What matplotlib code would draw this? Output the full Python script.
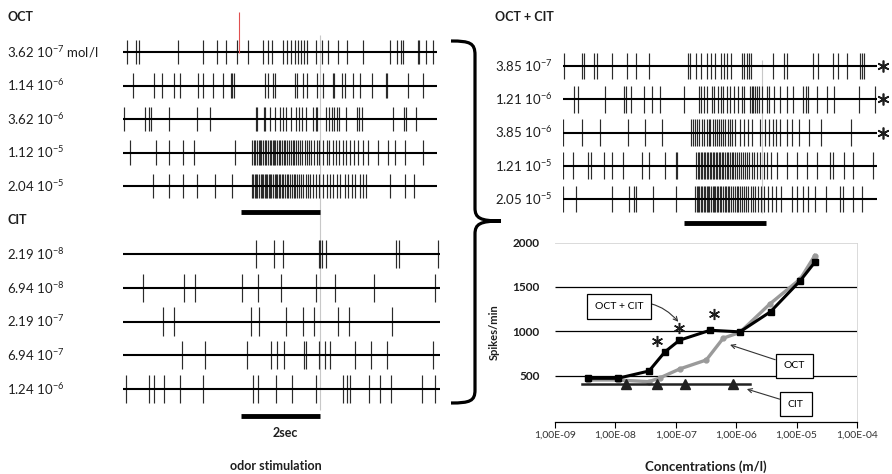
import matplotlib
matplotlib.use("Agg")
import matplotlib.pyplot as plt
from matplotlib.path import Path
from matplotlib.patches import PathPatch

plt.rcParams["font.family"] = ["Lato", "DejaVu Sans"]
plt.rcParams["mathtext.fontset"] = "custom"
plt.rcParams["mathtext.rm"] = "Lato"
plt.rcParams["mathtext.default"] = "regular"

W, H = 892, 474
INK = "#1e1e1e"

# ---------------- spike trains (times in s) ----------------
OCT_MANT = ["3.62", "1.14", "3.62", "1.12", "2.04"]
OCT_EXP = [-7, -6, -6, -5, -5]
OCT_SPIKES = [
    [0.11, 0.32, 0.40, 1.38, 2.01, 2.36, 2.58, 2.86, 3.13, 3.51, 3.62, 3.72, 4.01, 4.09,
     4.19, 4.30, 4.38, 4.44, 4.52, 4.59, 4.83, 4.98, 5.12, 5.38, 5.59, 6.01, 6.68, 6.86,
     6.94, 6.99, 7.38, 7.41, 7.58, 7.76],
    [0.26, 0.78, 0.98, 1.28, 1.43, 1.88, 2.01, 2.26, 2.51, 2.69, 2.73, 2.78, 3.55, 3.63,
     3.76, 3.80, 4.30, 4.34, 4.49, 4.61, 4.86, 4.99, 5.26, 5.28, 5.47, 5.55, 5.74, 5.93,
     6.22, 6.58, 6.61, 7.13, 7.51],
    [0.03, 0.55, 0.66, 0.70, 1.16, 1.86, 2.18, 3.33, 3.36, 3.53, 3.56, 3.68, 3.80, 3.93,
     4.00, 4.08, 4.19, 4.33, 4.41, 4.47, 4.58, 4.74, 4.83, 4.86, 5.08, 5.16, 5.22, 5.28,
     5.34, 5.41, 5.58, 5.84, 5.91, 5.97, 6.76, 7.03, 7.08, 7.33],
    [0.18, 0.83, 1.15, 1.50, 1.78, 2.80,
     3.23, 3.27, 3.30, 3.35, 3.39, 3.43, 3.46, 3.51, 3.55, 3.58, 3.62, 3.67, 3.70, 3.74,
     3.78, 3.81, 3.86, 3.90, 3.93, 3.97, 4.02, 4.06, 4.10, 4.14, 4.19, 4.24, 4.28, 4.33,
     4.38, 4.43, 4.48, 4.54, 4.59, 4.65, 4.71, 4.77, 4.84, 4.91,
     5.00, 5.10, 5.15, 5.25, 5.33, 5.40, 5.50, 5.58, 5.68, 5.78, 5.88, 6.00,
     6.13, 6.38, 6.63, 6.80, 7.05, 7.50],
    [0.75, 1.15, 1.50, 1.85, 2.30, 2.73,
     3.22, 3.26, 3.29, 3.33, 3.36, 3.40, 3.44, 3.47, 3.50, 3.54, 3.57, 3.61, 3.64, 3.68,
     3.71, 3.75, 3.79, 3.82, 3.86, 3.90, 3.93, 3.97, 4.01, 4.05, 4.09, 4.13, 4.18, 4.22,
     4.27, 4.31, 4.36, 4.41, 4.46, 4.51, 4.57, 4.62, 4.68, 4.74,
     4.83, 4.90, 5.00, 5.10, 5.18, 5.25, 5.35, 5.43, 5.55, 5.63, 5.73, 5.80, 5.93, 6.00,
     6.08, 6.68, 7.05, 7.28],
]

CIT_MANT = ["2.19", "6.94", "2.19", "6.94", "1.24"]
CIT_EXP = [-8, -8, -7, -7, -6]
CIT_SPIKES = [
    [3.33, 3.78, 4.00, 4.90, 4.93, 4.98, 5.08, 6.83, 6.90, 7.87],
    [0.49, 1.53, 1.80, 2.97, 3.38, 3.94, 4.83, 5.30, 6.28, 7.80],
    [1.01, 1.28, 3.20, 3.41, 4.07, 4.51, 4.78, 5.38, 5.65, 6.73],
    [1.48, 2.05, 3.09, 3.70, 3.84, 4.03, 4.53, 4.58, 4.91, 5.05, 5.18, 5.80, 6.19, 6.59,
     7.74],
    [0.08, 0.66, 0.78, 1.03, 1.43, 1.99, 3.24, 3.37, 3.83, 4.23, 4.83, 5.51, 5.59, 5.68,
     6.15, 6.43, 6.70, 7.47, 7.80],
]

MIX_MANT = ["3.85", "1.21", "3.85", "1.21", "2.05"]
MIX_EXP = [-7, -6, -6, -5, -5]
MIX_SIGNIF = [True, True, True, False, False]
MIX_SPIKES = [
    [0.03, 0.48, 0.53, 0.78, 0.85, 1.23, 1.60, 1.83, 2.15, 3.13, 3.18, 3.33, 3.45, 3.60,
     3.70, 3.80, 3.95, 4.03, 4.10, 4.20, 4.48, 4.53, 4.60, 4.65, 4.70, 5.25, 5.53, 5.60,
     6.25, 6.38, 6.75, 6.88, 7.10, 7.43, 7.48, 7.53],
    [0.28, 0.38, 1.05, 1.53, 1.58, 1.70, 2.03, 2.23, 2.43, 3.03, 3.40, 3.45, 3.53, 3.60,
     3.73, 3.78, 3.88, 3.95, 4.00, 4.10, 4.18, 4.28, 4.38, 4.48, 4.53, 4.68, 4.73, 4.75,
     4.80, 4.85, 4.90, 4.98, 5.10, 5.15, 5.28, 5.43, 5.60, 5.75, 6.00, 6.08, 6.13, 6.35,
     6.60, 6.78, 7.40, 7.80],
    [0.01, 0.47, 0.93, 1.62, 2.05, 2.47,
     3.19, 3.24, 3.30, 3.36, 3.41, 3.47, 3.53, 3.59, 3.64, 3.68, 3.74, 3.80, 3.85, 3.90,
     3.95, 4.00, 4.05, 4.12, 4.18, 4.23, 4.30,
     4.43, 4.53, 4.63, 4.72, 4.93, 5.05, 5.15, 5.25, 5.33, 5.43, 5.60, 5.73, 5.90, 6.15,
     6.45, 7.20],
    [0.01, 0.26, 0.63, 0.69, 1.03, 1.23, 1.51, 1.97, 2.16, 2.55, 2.83, 2.86,
     3.33, 3.37, 3.41, 3.44, 3.48, 3.52, 3.56, 3.59, 3.63, 3.67, 3.70, 3.74, 3.78, 3.82,
     3.86, 3.89, 3.93, 3.97, 4.01, 4.05, 4.09, 4.13, 4.17, 4.22, 4.26, 4.31, 4.35, 4.40,
     4.45, 4.50, 4.55, 4.61, 4.66, 4.72, 4.78, 4.85,
     4.93, 5.02, 5.10, 5.20, 5.34,
     5.59, 5.84, 6.11, 6.34, 6.68, 6.76, 7.03, 7.26, 7.74],
    [0.01, 0.33, 1.22, 1.66, 1.78, 1.83, 2.24, 2.83,
     3.30, 3.34, 3.37, 3.41, 3.45, 3.48, 3.52, 3.55, 3.59, 3.63, 3.66, 3.70, 3.74, 3.77,
     3.81, 3.85, 3.88, 3.92, 3.96, 4.00, 4.04, 4.08, 4.12, 4.16, 4.20, 4.25, 4.29, 4.34,
     4.38, 4.43, 4.48, 4.53, 4.58, 4.63, 4.69, 4.75, 4.81, 4.88, 4.95, 5.03, 5.12, 5.22,
     5.33, 5.45,
     5.72, 5.86, 6.01, 6.13, 6.30, 6.58, 6.93, 6.99, 7.24, 7.47],
]

# stimulus windows (s)
LEFT_STIM = (2.90, 4.93)
RIGHT_STIM = (3.03, 5.08)

# ---------------- dose-response ----------------
MIX_CONC = [3.5e-9, 1.1e-8, 3.6e-8, 6.6e-8, 1.15e-7, 3.7e-7, 1.15e-6, 3.7e-6, 1.15e-5, 2.0e-5]
MIX_RATE = [474, 474, 556, 771, 902, 1014, 996, 1222, 1571, 1778]
OCT_CONC = [3.5e-9, 1.1e-8, 3.6e-8, 5.5e-8, 1.17e-7, 3.2e-7, 6.1e-7, 1.15e-6, 3.6e-6,
            1.15e-5, 2.0e-5]
OCT_RATE = [455, 455, 436, 480, 580, 680, 925, 990, 1309, 1590, 1853]
CIT_CONC = [2.8e-9, 1.5e-8, 4.9e-8, 1.4e-7, 8.9e-7, 1.7e-6]
CIT_RATE = [405, 405, 405, 405, 405, 405]
STAR_CONC = [4.9e-8, 1.15e-7, 4.3e-7]
STAR_RATE = [898, 1038, 1199]
X_TICKS = [1e-9, 1e-8, 1e-7, 1e-6, 1e-5, 1e-4]
X_TICK_LABELS = ["1,00E-09", "1,00E-08", "1,00E-07", "1,00E-06", "1,00E-05", "1,00E-04"]
Y_TICKS = [500, 1000, 1500, 2000]

fig = plt.figure(figsize=(W / 100, H / 100), dpi=100)


def px_axes(x0, y0, x1, y1):
    return fig.add_axes([x0 / W, 1 - y1 / H, (x1 - x0) / W, (y1 - y0) / H])


def trace_panel(x0, y0, x1, y1, first_y, step):
    ax = px_axes(x0, y0, x1, y1)
    ax.set_xlim(0, 8)
    ax.set_ylim((y1 - first_y) / step, (y0 - first_y) / step)
    ax.axis("off")
    return ax


def conc_label(m, e):
    return f"{m} 10$^{{{e}}}$"


def draw_traces(ax, spikes, mant, exps, lab_x, t_end, half, t_start=0.0):
    for i, times in enumerate(spikes):
        ax.hlines(i, t_start, t_end, color="black", lw=1.5, zorder=3)
        ax.vlines(times, i - half, i + half, color="#2b2b2b", lw=0.85, zorder=2)
        ax.text(lab_x, i, conc_label(mant[i], exps[i]), fontsize=9.5, color=INK,
                ha="left", va="center")


# decoration layer (brace + headers)
deco = px_axes(0, 0, W, H)
deco.set_xlim(0, W)
deco.set_ylim(H, 0)
deco.axis("off")
brace = Path(
    [(451, 41), (470, 41), (475, 43), (475, 55), (475, 208), (475, 218), (480, 221),
     (501, 221), (480, 221), (475, 224), (475, 234), (475, 390), (475, 401), (470, 403),
     (451, 403)],
    [Path.MOVETO, Path.CURVE4, Path.CURVE4, Path.CURVE4, Path.LINETO, Path.CURVE4,
     Path.CURVE4, Path.CURVE4, Path.CURVE4, Path.CURVE4, Path.CURVE4, Path.LINETO,
     Path.CURVE4, Path.CURVE4, Path.CURVE4])
deco.add_patch(PathPatch(brace, fill=False, lw=2.3, color="black", capstyle="butt"))
deco.text(8, 17, "OCT", fontsize=9, fontweight="bold", color=INK, va="center")
deco.text(8, 220, "CIT", fontsize=9, fontweight="bold", color=INK, va="center")
deco.text(495, 17, "OCT + CIT", fontsize=9, fontweight="bold", color=INK, va="center")

# OCT panel
ax_oct = trace_panel(123, 5, 443, 228, 52, 33.5)
draw_traces(ax_oct, OCT_SPIKES, OCT_MANT, OCT_EXP, -2.9, 7.85, 0.37)
ax_oct.texts[0].set_text(conc_label(OCT_MANT[0], OCT_EXP[0]) + " mol/l")
ax_oct.vlines(LEFT_STIM[0], -1.19, 0.03, color="#e05050", lw=0.8, zorder=4)
ax_oct.vlines(LEFT_STIM[1], -0.5, 5.3, color="#c8c8c8", lw=0.8, zorder=1)
ax_oct.hlines(4.78, LEFT_STIM[0] + 0.05, LEFT_STIM[1], color="black", lw=3.5)

# CIT panel
ax_cit = trace_panel(123, 228, 443, 474, 254, 33.75)
draw_traces(ax_cit, CIT_SPIKES, CIT_MANT, CIT_EXP, -2.9, 7.93, 0.42, t_start=-0.1)
ax_cit.vlines(LEFT_STIM[1], -0.8, 4.62, color="#c8c8c8", lw=0.8, zorder=1)
ax_cit.hlines(4.8, LEFT_STIM[0] + 0.05, LEFT_STIM[1], color="black", lw=3.5)
ax_cit.text(4.05, 5.3, "2sec", fontsize=9, fontweight="bold", color=INK,
            ha="center", va="center")
ax_cit.text(3.83, 6.28, "odor stimulation", fontsize=9, fontweight="bold", color=INK,
            ha="center", va="center")

# OCT + CIT panel
ax_mix = trace_panel(563, 40, 883, 235, 66, 33.25)
draw_traces(ax_mix, MIX_SPIKES, MIX_MANT, MIX_EXP, -1.7, 7.85, 0.4)
ax_mix.vlines(RIGHT_STIM[1] - 0.1, -0.18, 4.42, color="#c8c8c8", lw=0.8, zorder=1)
ax_mix.hlines(4.72, RIGHT_STIM[0], RIGHT_STIM[1], color="black", lw=3.5)
sig_rows = [i for i, s in enumerate(MIX_SIGNIF) if s]
ax_mix.plot([8.0] * len(sig_rows), sig_rows, ls="none", marker=(6, 2, 0), ms=8.5,
            mew=1.2, color=INK, clip_on=False)

# dose-response chart
ax = px_axes(555, 242.5, 857, 422)
ax.set_xscale("log")
ax.set_xlim(X_TICKS[0], X_TICKS[-1])
ax.set_ylim(-17, 2000)
ax.hlines(Y_TICKS[:-1], X_TICKS[0], X_TICKS[-1], color="black", lw=0.9, zorder=1)
ax.plot(OCT_CONC, OCT_RATE, color="#9a9a9a", lw=2.4, marker="o", ms=3.5, zorder=2)
ax.plot(CIT_CONC, CIT_RATE, color="#222222", lw=1.8, marker="^", ms=7.5,
        markevery=[1, 2, 3, 4], zorder=3)
ax.plot(MIX_CONC, MIX_RATE, color="black", lw=2.2, marker="s", ms=3.8, zorder=4)
ax.plot(STAR_CONC, STAR_RATE, ls="none", marker=(6, 2, 0), ms=8, mew=1.1, color=INK)

ax.set_xticks(X_TICKS)
ax.set_xticklabels(X_TICK_LABELS)
ax.minorticks_off()
ax.set_yticks(Y_TICKS)
ax.tick_params(axis="x", direction="out", length=4, width=0.8, labelsize=7.5,
               labelcolor="#333333", pad=2)
ax.tick_params(axis="y", length=0, labelsize=8.5, pad=11, labelcolor=INK)
for lab in ax.get_yticklabels():
    lab.set_fontweight("bold")
ax.spines["left"].set_visible(False)
ax.spines["top"].set_color("#d4d4d4")
ax.spines["right"].set_color("#d4d4d4")
ax.spines["top"].set_linewidth(0.6)
ax.spines["right"].set_linewidth(0.6)
ax.spines["bottom"].set_linewidth(0.9)
ax.set_xlabel("Concentrations (m/l)", fontsize=9.5, fontweight="bold", color=INK,
              labelpad=15)
ax.set_ylabel("Spikes/min", fontsize=8, fontweight="bold", color=INK, labelpad=9)

box = dict(boxstyle="square,pad=0.75", fc="white", ec="black", lw=0.9)
arrow = dict(arrowstyle="->", color="#333333", lw=0.8, shrinkA=0, shrinkB=0)
ax.annotate("OCT + CIT", xy=(1.1e-7, 1109), xytext=(1.15e-8, 1278), fontsize=7.5,
            ha="center", va="center", bbox=box,
            arrowprops=dict(arrow, connectionstyle="arc3,rad=-0.35"))
ax.annotate("OCT", xy=(7.9e-7, 850), xytext=(9.1e-6, 613), fontsize=7.5,
            ha="center", va="center", bbox=box, arrowprops=arrow)
ax.annotate("CIT", xy=(1.5e-6, 353), xytext=(9.7e-6, 184), fontsize=7.5,
            ha="center", va="center", bbox=box, arrowprops=arrow)

fig.savefig("out.png", dpi=100)
